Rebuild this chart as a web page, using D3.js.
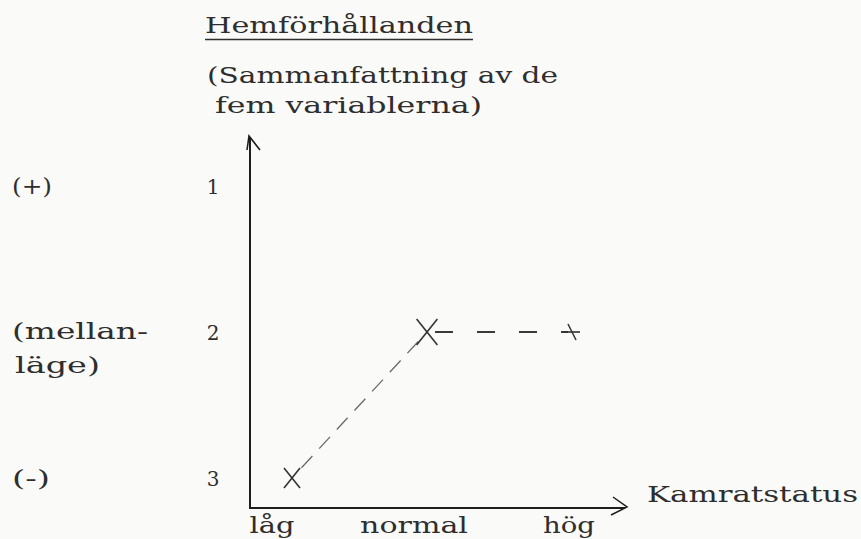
<!DOCTYPE html>
<html>
<head>
<meta charset="utf-8">
<script src="https://cdn.jsdelivr.net/npm/d3@7"></script>
<style>
  html, body { margin: 0; padding: 0; background: #fafaf8; }
  svg { display: block; }
  text { font-family: "DejaVu Serif", "Liberation Serif", serif; fill: #2e2e2e; }
</style>
</head>
<body>
<svg id="chart" width="861" height="539"></svg>
<script>
// Kamratstatus categories and the summary score of home conditions (1 = best, 3 = worst)
const categories = ["låg", "normal", "hög"];
const scores = [3, 2, 2];
const yTicks = [1, 2, 3];
const yNotes = [["(+)"], ["(mellan-", "läge)"], ["(-)"]];
const title = "Hemförhållanden";
const subtitle = ["(Sammanfattning av de", "fem variablerna)"];
const xTitle = "Kamratstatus";

const svg = d3.select("#chart");
const ink = "#2e2e2e";
const fs = 23;

// scales
const x = d3.scaleOrdinal().domain(categories).range([292, 427, 572]);
const xLabel = d3.scaleOrdinal().domain(categories).range([272, 414, 569]);
const xLabelWidth = d3.scaleOrdinal().domain(categories).range([45, 108, 52]);
const y = d3.scaleLinear().domain([1, 3]).range([186, 478]);

const axisX = 250, axisBottom = 509, axisTop = 136, axisRight = 627;

// title block
svg.append("text").attr("x", 205).attr("y", 33)
  .attr("font-size", fs).attr("textLength", 268).attr("lengthAdjust", "spacingAndGlyphs")
  .text(title);
svg.append("line").attr("x1", 205).attr("x2", 473).attr("y1", 39.5).attr("y2", 39.5)
  .attr("stroke", ink).attr("stroke-width", 1.6);
svg.append("text").attr("x", 207).attr("y", 83)
  .attr("font-size", fs).attr("textLength", 351).attr("lengthAdjust", "spacingAndGlyphs")
  .text(subtitle[0]);
svg.append("text").attr("x", 215).attr("y", 113)
  .attr("font-size", fs).attr("textLength", 267).attr("lengthAdjust", "spacingAndGlyphs")
  .text(subtitle[1]);

// axes with open arrowheads
svg.append("line").attr("x1", axisX).attr("x2", axisX).attr("y1", axisBottom).attr("y2", axisTop + 2)
  .attr("stroke", "#1e1e1e").attr("stroke-width", 2);
svg.append("path")
  .attr("d", `M${axisX - 3},${axisTop + 14} L${axisX - 1},${axisTop} L${axisX + 10},${axisTop + 14}`)
  .attr("fill", "none").attr("stroke", "#1e1e1e").attr("stroke-width", 1.6);
svg.append("line").attr("x1", axisX).attr("x2", axisRight - 2).attr("y1", axisBottom - 1).attr("y2", axisBottom - 1)
  .attr("stroke", "#1e1e1e").attr("stroke-width", 2);
svg.append("path")
  .attr("d", `M${axisRight - 14},${axisBottom - 12} L${axisRight},${axisBottom - 2} L${axisRight - 16},${axisBottom + 6}`)
  .attr("fill", "none").attr("stroke", "#1e1e1e").attr("stroke-width", 1.5);

// y tick labels and verbal notes
svg.selectAll(".ytick").data(yTicks).join("text")
  .attr("class", "ytick")
  .attr("x", 213).attr("y", d => y(d) + 8)
  .attr("text-anchor", "middle").attr("font-size", 20)
  .text(d => d);

const noteWidths = [[40], [136, 85], [38]];
yTicks.forEach((t, i) => {
  yNotes[i].forEach((line, j) => {
    const base = yNotes[i].length > 1 ? y(t) + 7 + j * 34 : y(t) + 8;
    svg.append("text").attr("x", j === 1 ? 15 : 12).attr("y", base)
      .attr("font-size", fs).attr("textLength", noteWidths[i][j]).attr("lengthAdjust", "spacingAndGlyphs")
      .text(line);
  });
});

// x category labels
svg.selectAll(".xtick").data(categories).join("text")
  .attr("class", "xtick")
  .attr("x", d => xLabel(d)).attr("y", 533)
  .attr("text-anchor", "middle").attr("font-size", fs)
  .attr("textLength", d => xLabelWidth(d)).attr("lengthAdjust", "spacingAndGlyphs")
  .text(d => d);

svg.append("text").attr("x", 647).attr("y", 502)
  .attr("font-size", fs).attr("textLength", 211).attr("lengthAdjust", "spacingAndGlyphs")
  .text(xTitle);

// dashed connections between points
const pts = categories.map((c, i) => ({ c, v: scores[i], px: x(c), py: y(scores[i]) }));
const seg = [
  { a: pts[0], b: pts[1], dash: "16 10", w: 1.3, col: "#6a6a6a", trimA: 14, trimB: 4 },
  { a: pts[1], b: pts[2], dash: "18 24", w: 1.8, col: "#3a3a3a", trimA: 8, trimB: 4 }
];
seg.forEach(s => {
  const dx = s.b.px - s.a.px, dy = s.b.py - s.a.py;
  const len = Math.hypot(dx, dy), ux = dx / len, uy = dy / len;
  svg.append("line")
    .attr("x1", s.a.px + ux * s.trimA).attr("y1", s.a.py + uy * s.trimA)
    .attr("x2", s.b.px - ux * s.trimB).attr("y2", s.b.py - uy * s.trimB)
    .attr("stroke", s.col).attr("stroke-width", s.w).attr("stroke-dasharray", s.dash);
});

// cross markers
const crossSize = [10, 13, 8];
pts.forEach((p, i) => {
  const r = crossSize[i];
  const g = svg.append("g").attr("transform", `translate(${p.px},${p.py})`)
    .attr("stroke", "#333").attr("stroke-width", 1.6).attr("fill", "none");
  if (i === 2) {
    g.append("line").attr("x1", -r).attr("y1", 0).attr("x2", r).attr("y2", 0);
    g.append("line").attr("x1", -4).attr("y1", -r).attr("x2", 4).attr("y2", r);
  } else {
    g.append("line").attr("x1", -r * 0.8).attr("y1", -r).attr("x2", r * 0.8).attr("y2", r);
    g.append("line").attr("x1", -r * 0.8).attr("y1", r).attr("x2", r * 0.8).attr("y2", -r);
  }
});
</script>
</body>
</html>
